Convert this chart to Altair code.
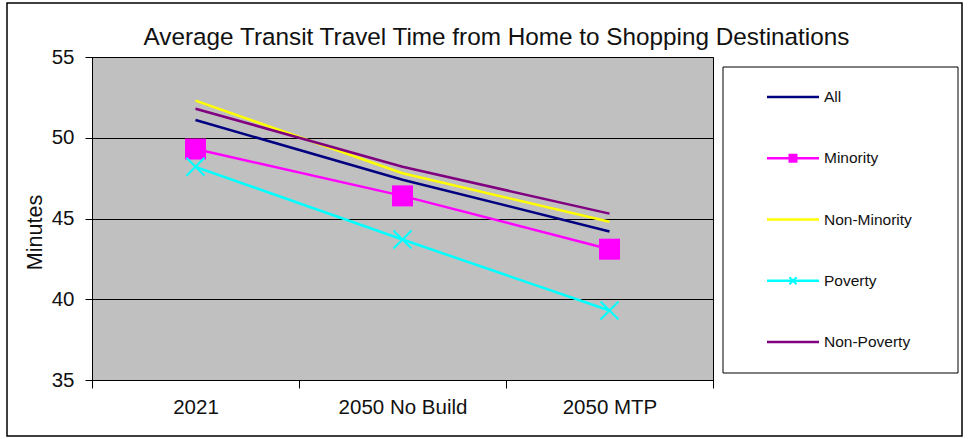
import altair as alt
import pandas as pd

# Scenario categories and average travel time (minutes) per population group
categories = ["2021", "2050 No Build", "2050 MTP"]
series_names = ["All", "Minority", "Non-Minority", "Poverty", "Non-Poverty"]
all_vals = [51.1, 47.4, 44.2]
minority_vals = [49.3, 46.4, 43.1]
non_minority_vals = [52.3, 47.8, 44.8]
poverty_vals = [48.2, 43.7, 39.3]
non_poverty_vals = [51.8, 48.2, 45.3]
series_colors = ["#000080", "#FF00FF", "#FFFF00", "#00FFFF", "#800080"]
y_ticks = [35, 40, 45, 50, 55]

FONT = "Liberation Sans"
X_MARK = "M-1,-1L1,1M-1,1L1,-1"

values_by_series = [all_vals, minority_vals, non_minority_vals, poverty_vals, non_poverty_vals]
rows = []
for name, vals in zip(series_names, values_by_series):
    for cat, v in zip(categories, vals):
        rows.append({"category": cat, "series": name, "minutes": v})
df = pd.DataFrame(rows)
legend_df = pd.DataFrame({"series": series_names})
one_row = pd.DataFrame({"k": [0]})

color = alt.Color(
    "series:N",
    scale=alt.Scale(domain=series_names, range=series_colors),
    legend=None,
)
x_enc = alt.X(
    "category:N",
    sort=categories,
    bandPosition=0.5,
    scale=alt.Scale(type="band", paddingInner=0, paddingOuter=0),
    axis=alt.Axis(
        title=None,
        labelAngle=0,
        tickBand="extent",
        tickSize=8,
        tickColor="black",
        domainColor="black",
        labelFont=FONT,
        labelFontSize=20.5,
        labelColor="#111111",
        labelPadding=9,
        grid=False,
    ),
)
y_enc = alt.Y(
    "minutes:Q",
    scale=alt.Scale(domain=[35, 55], nice=False, zero=False),
    axis=alt.Axis(
        values=y_ticks,
        title="Minutes",
        titleFont=FONT,
        titleFontSize=21.5,
        titleFontWeight="normal",
        titleColor="#111111",
        titleAlign="center",
        titleBaseline="middle",
        titleX=-57,
        titleY=175,
        labelFont=FONT,
        labelFontSize=20.5,
        labelColor="#111111",
        labelPadding=11,
        tickSize=7,
        tickColor="black",
        domainColor="black",
        grid=True,
        gridColor="black",
        gridOpacity=1,
    ),
)

base = alt.Chart(df)
lines = base.mark_line(strokeWidth=2.5).encode(x=x_enc, y=y_enc, color=color)
squares = base.transform_filter(alt.datum.series == "Minority").mark_point(
    shape="square", filled=True, size=441, color="#FF00FF", opacity=1
).encode(x=x_enc, y="minutes:Q")
crosses = base.transform_filter(alt.datum.series == "Poverty").mark_point(
    shape=X_MARK, filled=False, size=324, color="#00FFFF", strokeWidth=2, opacity=1
).encode(x=x_enc, y="minutes:Q")

main = alt.layer(lines, squares, crosses)

# Legend panel drawn beside the plot
leg_y = alt.Y(
    "series:N",
    sort=series_names,
    scale=alt.Scale(type="point", range=[40, 285], padding=0),
    axis=None,
)
leg_box = alt.Chart(one_row).mark_rect(fill="white", stroke="black", strokeWidth=1).encode(
    x=alt.value(631), x2=alt.value(866), y=alt.value(10), y2=alt.value(316)
)
leg_lines = alt.Chart(legend_df).mark_rule(strokeWidth=2.5).encode(
    x=alt.value(675), x2=alt.value(727), y=leg_y, color=color
)
leg_sq = alt.Chart(legend_df).transform_filter(alt.datum.series == "Minority").mark_point(
    shape="square", filled=True, size=81, color="#FF00FF", opacity=1
).encode(x=alt.value(701), y=leg_y)
leg_x = alt.Chart(legend_df).transform_filter(alt.datum.series == "Poverty").mark_point(
    shape=X_MARK, filled=False, size=49, color="#00FFFF", strokeWidth=2, opacity=1
).encode(x=alt.value(701), y=leg_y)
leg_text = alt.Chart(legend_df).mark_text(
    align="left", baseline="middle", font=FONT, fontSize=15.5, color="#111111"
).encode(x=alt.value(732), y=leg_y, text="series:N")
legend = alt.layer(leg_box, leg_lines, leg_sq, leg_x, leg_text)

frame = alt.Chart(one_row).mark_rect(filled=False, stroke="black", strokeWidth=1.5).encode(
    x=alt.value(-85), x2=alt.value(870), y=alt.value(-54), y2=alt.value(379)
)

chart = (
    alt.layer(frame, main, legend)
    .resolve_scale(y="independent")
    .properties(
        width=621,
        height=323,
        autosize=alt.AutoSizeParams(type="none"),
        padding={"left": 92, "top": 57, "right": 255, "bottom": 59},
        title=alt.TitleParams(
            "Average Transit Travel Time from Home to Shopping Destinations",
            font=FONT,
            fontSize=24.3,
            fontWeight="normal",
            color="#111111",
            anchor="middle",
            dx=94,
            offset=-48,
        ),
        background="white",
    )
    .configure_view(fill="#C0C0C0", stroke="black", strokeWidth=1)
)

chart.save("out.html", embed_options={"renderer": "svg", "actions": False})
